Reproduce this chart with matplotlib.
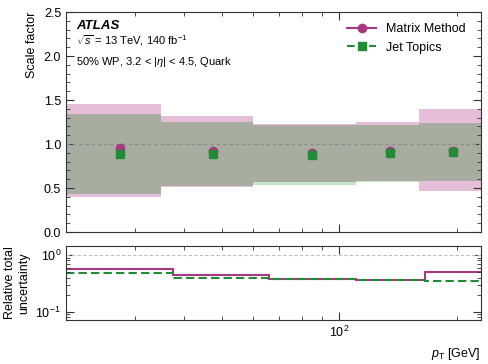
import numpy as np
import matplotlib
matplotlib.use("Agg")
import matplotlib.pyplot as plt
from matplotlib.lines import Line2D
from matplotlib.ticker import LogLocator, NullFormatter, MultipleLocator

plt.rcParams['font.family'] = ['Liberation Sans', 'DejaVu Sans']
plt.rcParams['mathtext.fontset'] = 'custom'
plt.rcParams['mathtext.rm'] = 'Liberation Sans'
plt.rcParams['mathtext.it'] = 'Liberation Sans:italic'

# pT bins [GeV]
edges = [20, 35, 60, 110, 160, 230]
centers = [27.5, 47.5, 85, 135, 195]

# scale factors
sf_mm = [0.95, 0.92, 0.90, 0.92, 0.92]
sf_jt = [0.89, 0.89, 0.88, 0.90, 0.91]

# total uncertainty bands (low, high)
mm_lo = [0.40, 0.515, 0.57, 0.583, 0.47]
mm_hi = [1.46, 1.315, 1.23, 1.25, 1.40]
jt_lo = [0.43, 0.526, 0.538, 0.565, 0.58]
jt_hi = [1.34, 1.25, 1.216, 1.22, 1.24]

# relative total uncertainty (ratio panel)
rel_edges = [20, 37.5, 66.25, 110, 165, 230]
rel_mm = [0.573, 0.438, 0.373, 0.367, 0.50]
rel_jt = [0.487, 0.398, 0.382, 0.367, 0.352]

c_mm = '#a8387f'
c_jt = '#238b38'
c_pink = '#e4bfd7'
c_green = '#c6e4c8'
c_gray = '#a9aca1'

fig = plt.figure(figsize=(4.88, 3.64), dpi=100)
ax = fig.add_axes([0.1352, 0.3626, 0.8504, 0.6044])
rx = fig.add_axes([0.1352, 0.1209, 0.8504, 0.2033], sharex=ax)


def ext(v):
    return list(v) + [v[-1]]


ax.fill_between(edges, ext(mm_lo), ext(mm_hi), step='post', color=c_pink, lw=0)
ax.fill_between(edges, ext(jt_lo), ext(jt_hi), step='post', color=c_green, lw=0)
ov_lo = np.maximum(mm_lo, jt_lo)
ov_hi = np.minimum(mm_hi, jt_hi)
ax.fill_between(edges, ext(ov_lo), ext(ov_hi), step='post', color=c_gray, lw=0)

ax.axhline(1.0, color='#8f8f8f', ls='--', lw=0.9, dashes=(3, 2))
ax.plot(centers, sf_mm, 'o', color=c_mm, ms=6, zorder=5)
ax.plot(centers, sf_jt, 's', color=c_jt, ms=6, zorder=6)

ax.set_xscale('log')
ax.set_xlim(20, 230)
ax.set_ylim(0, 2.5)
ax.yaxis.set_major_locator(MultipleLocator(0.5))
ax.yaxis.set_minor_locator(MultipleLocator(0.1))
ax.set_ylabel('Scale factor', fontsize=9, loc='top')
ax.tick_params(labelbottom=False)

handles = [Line2D([], [], color=c_mm, marker='o', ms=6, lw=1.5),
           Line2D([], [], color=c_jt, marker='s', ms=6, lw=1.5, ls='--')]
ax.legend(handles, ['Matrix Method', 'Jet Topics'], loc='upper right',
          frameon=False, fontsize=9, handlelength=2.3,
          bbox_to_anchor=(0.99, 1.0))

ax.text(0.025, 0.925, 'ATLAS', transform=ax.transAxes, fontsize=9.5,
        fontweight='bold', fontstyle='italic')
ax.text(0.025, 0.852, r'$\sqrt{s}$ = 13 TeV, 140 fb$^{-1}$',
        transform=ax.transAxes, fontsize=8)
ax.text(0.025, 0.76, r'50% WP, 3.2 < |$\eta$| < 4.5, Quark',
        transform=ax.transAxes, fontsize=8)

rx.stairs(rel_mm, rel_edges, color=c_mm, lw=1.5, baseline=None)
rx.stairs(rel_jt, rel_edges, color=c_jt, lw=1.5, ls=(0, (4, 2)), baseline=None)
rx.axhline(1.0, color='#bdbdbd', ls='--', lw=0.8, dashes=(3, 2))
rx.set_yscale('log')
rx.set_ylim(0.0714, 1.44)
rx.set_ylabel('Relative total\nuncertainty', fontsize=9)
rx.set_xlabel(r'$p_{\mathrm{T}}$ [GeV]', fontsize=9, loc='right')
rx.yaxis.set_major_locator(LogLocator(base=10, numticks=10))
rx.yaxis.set_minor_locator(LogLocator(base=10, subs=np.arange(2, 10), numticks=10))
rx.yaxis.set_minor_formatter(NullFormatter())

for a in (ax, rx):
    a.xaxis.set_minor_formatter(NullFormatter())
    a.tick_params(which='both', direction='in', top=True, right=True,
                  labelsize=9, color='#333333')
    a.tick_params(which='major', length=6)
    a.tick_params(which='minor', length=3)
    for s in a.spines.values():
        s.set_color('#333333')

fig.savefig('out.png', dpi=100)
